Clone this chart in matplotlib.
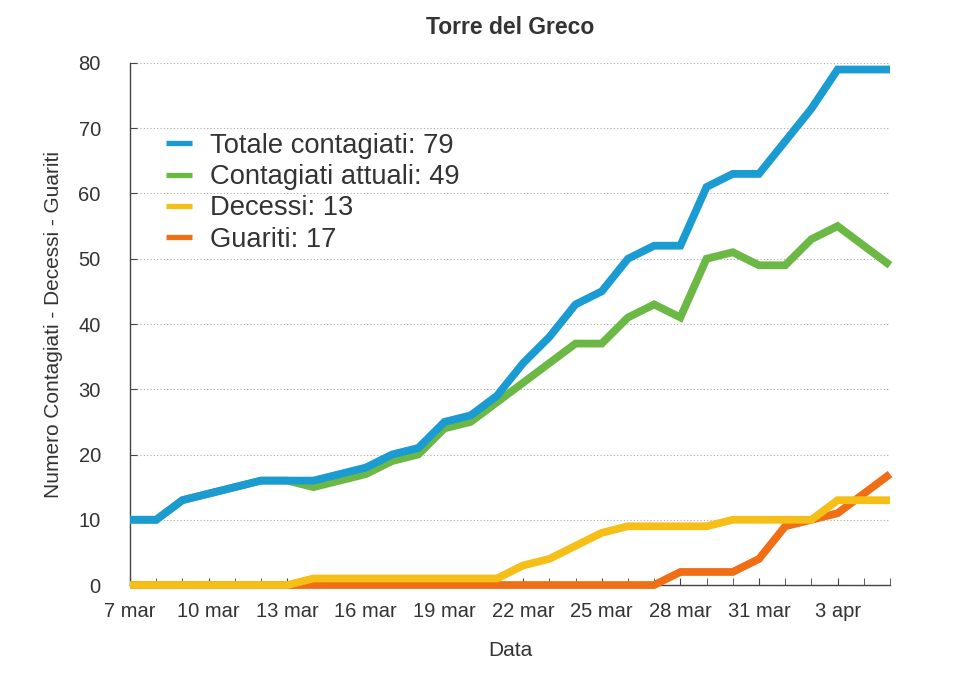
import matplotlib
matplotlib.use("Agg")
import matplotlib.pyplot as plt
import matplotlib.dates as mdates
import numpy as np
import datetime as dt

plt.rcParams['font.family'] = ['Liberation Sans', 'DejaVu Sans']

dates = ["2020-03-07", "2020-03-08", "2020-03-09", "2020-03-10", "2020-03-11",
         "2020-03-12", "2020-03-13", "2020-03-14", "2020-03-15", "2020-03-16",
         "2020-03-17", "2020-03-18", "2020-03-19", "2020-03-20", "2020-03-21",
         "2020-03-22", "2020-03-23", "2020-03-24", "2020-03-25", "2020-03-26",
         "2020-03-27", "2020-03-28", "2020-03-29", "2020-03-30", "2020-03-31",
         "2020-04-01", "2020-04-02", "2020-04-03", "2020-04-04", "2020-04-05"]

totale = [10, 10, 13, 14, 15, 16, 16, 16, 17, 18, 20, 21, 25, 26, 29,
          34, 38, 43, 45, 50, 52, 52, 61, 63, 63, 68, 73, 79, 79, 79]
attuali = [10, 10, 13, 14, 15, 16, 16, 15, 16, 17, 19, 20, 24, 25, 28,
           31, 34, 37, 37, 41, 43, 41, 50, 51, 49, 49, 53, 55, 52, 49]
decessi = [0, 0, 0, 0, 0, 0, 0, 1, 1, 1, 1, 1, 1, 1, 1,
           3, 4, 6, 8, 9, 9, 9, 9, 10, 10, 10, 10, 13, 13, 13]
guariti = [0, 0, 0, 0, 0, 0, 0, 0, 0, 0, 0, 0, 0, 0, 0,
           0, 0, 0, 0, 0, 0, 2, 2, 2, 4, 9, 10, 11, 14, 17]

tick_dates = ["2020-03-07", "2020-03-10", "2020-03-13", "2020-03-16", "2020-03-19",
              "2020-03-22", "2020-03-25", "2020-03-28", "2020-03-31", "2020-04-03"]
tick_labels = ["7 mar", "10 mar", "13 mar", "16 mar", "19 mar",
               "22 mar", "25 mar", "28 mar", "31 mar", "3 apr"]
y_ticks = [0, 10, 20, 30, 40, 50, 60, 70, 80]

labels = ["Totale contagiati: 79", "Contagiati attuali: 49", "Decessi: 13", "Guariti: 17"]
colors = ["#1a9bd1", "#6cb845", "#f5bf17", "#f06e14"]

x = [dt.datetime.strptime(d, "%Y-%m-%d") for d in dates]
xt = [dt.datetime.strptime(d, "%Y-%m-%d") for d in tick_dates]

fig = plt.figure(figsize=(9.6, 6.75), dpi=100)
ax = fig.add_axes([0.1354, 0.1333, 0.7917, 0.7734])

series = [totale, attuali, decessi, guariti]
for i, (s, c, l) in enumerate(zip(series, colors, labels)):
    ax.plot(x, s, color=c, lw=5.6, label=l, solid_capstyle='butt',
            solid_joinstyle='miter', zorder=10 - i, clip_on=False)

ax.set_xlim(x[0], x[-1])
ax.set_ylim(0, 80)
ax.set_yticks(y_ticks)
ax.set_xticks(xt)
ax.set_xticklabels(tick_labels)
ax.xaxis.set_minor_locator(mdates.DayLocator())

txtc = "#333333"
ax.tick_params(axis='both', which='both', direction='in', colors="#444444",
               labelcolor=txtc, labelsize=14.5)
ax.tick_params(axis='x', which='major', length=5, pad=12.5)
ax.tick_params(axis='x', which='minor', length=5)
ax.tick_params(axis='y', which='major', length=5, pad=21)

for sp in ['top', 'right']:
    ax.spines[sp].set_visible(False)
for sp in ['left', 'bottom']:
    ax.spines[sp].set_color("#444444")
    ax.spines[sp].set_linewidth(1.0)

ax.yaxis.grid(True, linestyle=(0, (1, 2)), color="#aaaaaa", linewidth=0.8)
ax.set_axisbelow(True)

ax.set_title("Torre del Greco", fontsize=16.5, fontweight='bold', color=txtc, pad=21)
ax.set_xlabel("Data", fontsize=15, color=txtc, labelpad=14)
ax.set_ylabel("Numero Contagiati - Decessi - Guariti", fontsize=15, color=txtc, labelpad=11)

leg = ax.legend(loc='upper left', bbox_to_anchor=(0.047, 0.866), frameon=False,
                fontsize=19.7, handlelength=0.95, handletextpad=0.66,
                labelspacing=0.19, labelcolor=txtc, borderpad=0, borderaxespad=0)
for h in leg.get_lines():
    h.set_linewidth(3.8)

fig.savefig("out.png", dpi=100)
